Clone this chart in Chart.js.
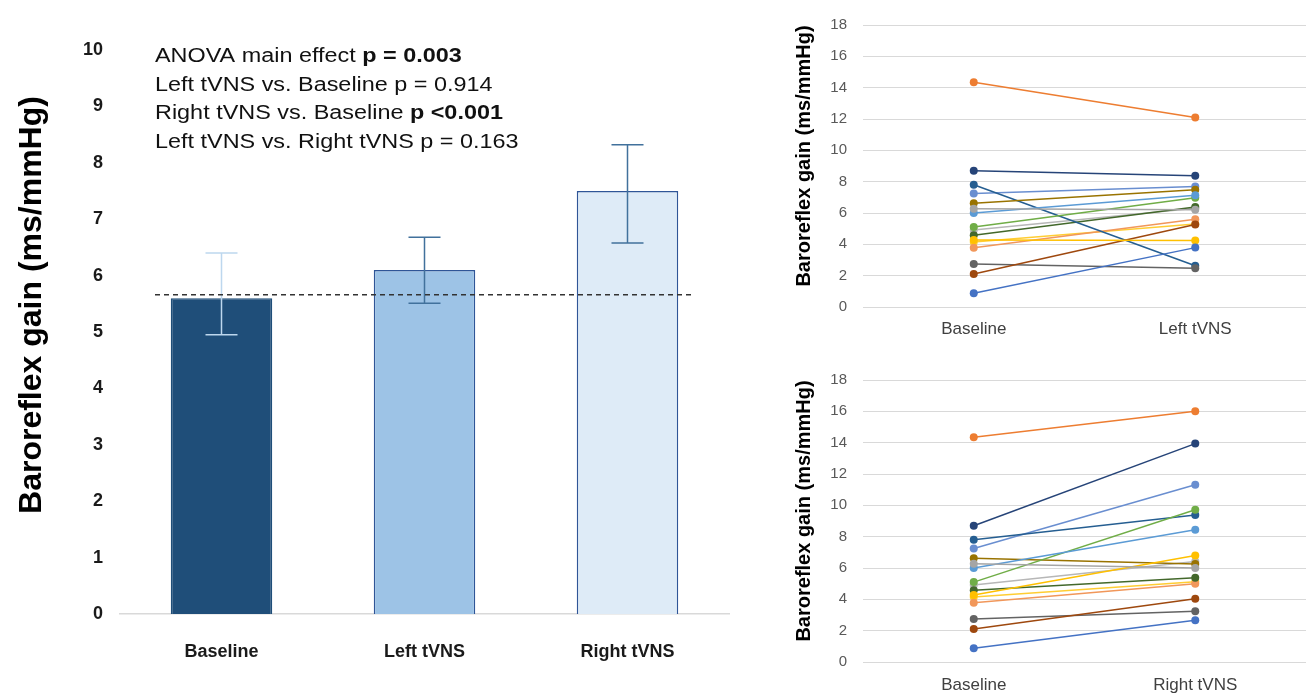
<!DOCTYPE html>
<html>
<head>
<meta charset="utf-8">
<script src="https://cdn.jsdelivr.net/npm/chart.js@4.4.1/dist/chart.umd.min.js"></script>
<style>
  body { margin: 0; background: #fff; }
  #wrap { position: relative; width: 1310px; height: 693px; overflow: hidden; }
  canvas { position: absolute; }
</style>
</head>
<body>
<div id="wrap">
  <canvas id="barChart" width="740" height="693" style="left:0;top:0"></canvas>
  <canvas id="leftChart" width="530" height="346" style="left:780px;top:0"></canvas>
  <canvas id="rightChart" width="530" height="338" style="left:780px;top:355px"></canvas>
</div>
<script>
// group means with error bars
const groups = ['Baseline', 'Left tVNS', 'Right tVNS'];
const groupMeans = [5.6, 6.1, 7.5];
const errUpper = [6.4, 6.68, 8.32];
const errLower = [4.95, 5.51, 6.58];
const baselineRef = 5.66;

// individual subjects
const subjBaseline = [0.88, 14.35, 6.27, 4.27, 6.0, 5.1, 8.7, 2.1, 2.75, 6.62, 7.8, 4.58, 7.24, 3.78, 4.92, 4.15];
const subjLeft     = [3.79, 12.1, 6.2, 4.25, 7.13, 6.97, 8.38, 5.26, 2.48, 7.48, 2.63, 6.39, 7.69, 5.6, 6.3, 5.3];
const subjRight    = [2.67, 16.0, 6.0, 6.8, 8.44, 9.72, 13.94, 4.04, 3.24, 6.25, 9.38, 5.37, 11.31, 4.99, 6.42, 5.12];

const yTitle = 'Baroreflex gain (ms/mmHg)';
const notes = [
  [['ANOVA main effect ', false], ['p = 0.003', true]],
  [['Left tVNS vs. Baseline p = 0.914', false]],
  [['Right tVNS vs. Baseline ', false], ['p <0.001', true]],
  [['Left tVNS vs. Right tVNS p = 0.163', false]]
];

const subjColors = ['#4472c4', '#ed7d31', '#a5a5a5', '#ffc000', '#5b9bd5', '#70ad47', '#264478', '#9e480e',
  '#636363', '#997300', '#255e91', '#43682b', '#698ed0', '#f1975a', '#b7b7b7', '#ffcd33'];
const barColors = ['#1f4e79', '#9dc3e6', '#deebf7'];
const barBorders = ['#1f4e79', '#2f5597', '#2f5597'];
const errColors = ['#bdd7ee', '#41719c', '#41719c'];

const FONT = "'Liberation Sans', Arial, sans-serif";
Chart.defaults.font.family = FONT;
Chart.defaults.animation = false;

// rotated axis title drawn at a fixed spot
function sideTitle(x, y, size) {
  return {
    id: 'sideTitle',
    afterDraw(chart) {
      const ctx = chart.ctx;
      ctx.save();
      ctx.translate(x, y);
      ctx.rotate(-Math.PI / 2);
      ctx.font = 'bold ' + size + 'px ' + FONT;
      ctx.fillStyle = '#000';
      ctx.textAlign = 'center';
      ctx.textBaseline = 'middle';
      ctx.fillText(yTitle, 0, 0);
      ctx.restore();
    }
  };
}

const errorBars = {
  id: 'errorBars',
  afterDatasetsDraw(chart) {
    const { ctx, chartArea, scales: { x, y } } = chart;
    ctx.save();
    ctx.lineWidth = 1.5;
    groups.forEach((g, i) => {
      const cx = x.getPixelForValue(i);
      const top = y.getPixelForValue(errUpper[i]);
      const bot = y.getPixelForValue(errLower[i]);
      ctx.strokeStyle = errColors[i];
      ctx.beginPath();
      ctx.moveTo(cx, top); ctx.lineTo(cx, bot);
      ctx.moveTo(cx - 16, top); ctx.lineTo(cx + 16, top);
      ctx.moveTo(cx - 16, bot); ctx.lineTo(cx + 16, bot);
      ctx.stroke();
    });
    // dashed reference at baseline mean
    const yRef = y.getPixelForValue(baselineRef);
    ctx.setLineDash([5, 4]);
    ctx.strokeStyle = '#333';
    ctx.beginPath();
    ctx.moveTo(chartArea.left + 35, yRef);
    ctx.lineTo(chartArea.right - 34, yRef);
    ctx.stroke();
    ctx.restore();
  },
  afterDraw(chart) {
    const ctx = chart.ctx;
    ctx.save();
    ctx.fillStyle = '#111';
    ctx.textBaseline = 'alphabetic';
    notes.forEach((line, i) => {
      ctx.save();
      ctx.translate(155, 62 + i * 28.5);
      ctx.scale(1.17, 1);
      let xPos = 0;
      line.forEach(([txt, bold]) => {
        ctx.font = (bold ? 'bold ' : '') + '20px ' + FONT;
        ctx.fillText(txt, xPos, 0);
        xPos += ctx.measureText(txt).width;
      });
      ctx.restore();
    });
    ctx.restore();
  }
};

new Chart(document.getElementById('barChart'), {
  type: 'bar',
  data: {
    labels: groups,
    datasets: [{
      data: groupMeans,
      backgroundColor: barColors,
      borderColor: barBorders,
      borderWidth: 1.5,
      categoryPercentage: 1,
      barPercentage: 0.5
    }]
  },
  options: {
    responsive: false,
    devicePixelRatio: 1,
    layout: { padding: { left: 0, right: 11, top: 50, bottom: 0 } },
    plugins: { legend: { display: false }, tooltip: { enabled: false } },
    scales: {
      x: {
        grid: { display: false },
        border: { display: true, color: '#d9d9d9', width: 1.5 },
        ticks: { color: '#1a1a1a', font: { size: 18, weight: 'bold' }, padding: 19 },
        afterFit: s => { s.height = 79; }
      },
      y: {
        min: 0, max: 10,
        ticks: { stepSize: 1, color: '#1a1a1a', font: { size: 18, weight: 'bold' }, padding: 17 },
        grid: { display: false, drawTicks: false },
        border: { display: false },
        afterFit: s => { s.width = 120; }
      }
    }
  },
  plugins: [errorBars, sideTitle(32, 305, 32)]
});

function pairedChart(id, secondLabel, secondValues, xAxisHeight, labelPad, topPad, titleY) {
  return new Chart(document.getElementById(id), {
    type: 'line',
    data: {
      labels: ['Baseline', secondLabel],
      datasets: subjBaseline.map((b, i) => ({
        data: [b, secondValues[i]],
        borderColor: subjColors[i],
        backgroundColor: subjColors[i],
        borderWidth: 1.5,
        pointRadius: 4,
        pointBorderWidth: 0,
        pointHoverRadius: 4
      }))
    },
    options: {
      responsive: false,
      devicePixelRatio: 1,
      layout: { padding: { left: 0, right: 0, top: topPad, bottom: 0 } },
      plugins: { legend: { display: false }, tooltip: { enabled: false } },
      scales: {
        x: {
          offset: true,
          grid: { display: false },
          border: { display: false },
          ticks: { color: '#404040', font: { size: 17 }, padding: labelPad },
          afterFit: s => { s.height = xAxisHeight; }
        },
        y: {
          min: 0, max: 18,
          ticks: { stepSize: 2, color: '#595959', font: { size: 15 }, padding: 16 },
          grid: { color: '#d9d9d9', lineWidth: 1, drawTicks: false },
          border: { display: false },
          afterFit: s => { s.width = 83; }
        }
      }
    },
    plugins: [sideTitle(24, titleY, 20)]
  });
}

pairedChart('leftChart', 'Left tVNS', subjLeft, 39, 4, 16, 156);
pairedChart('rightChart', 'Right tVNS', subjRight, 31, 5, 13, 156);
</script>
</body>
</html>
